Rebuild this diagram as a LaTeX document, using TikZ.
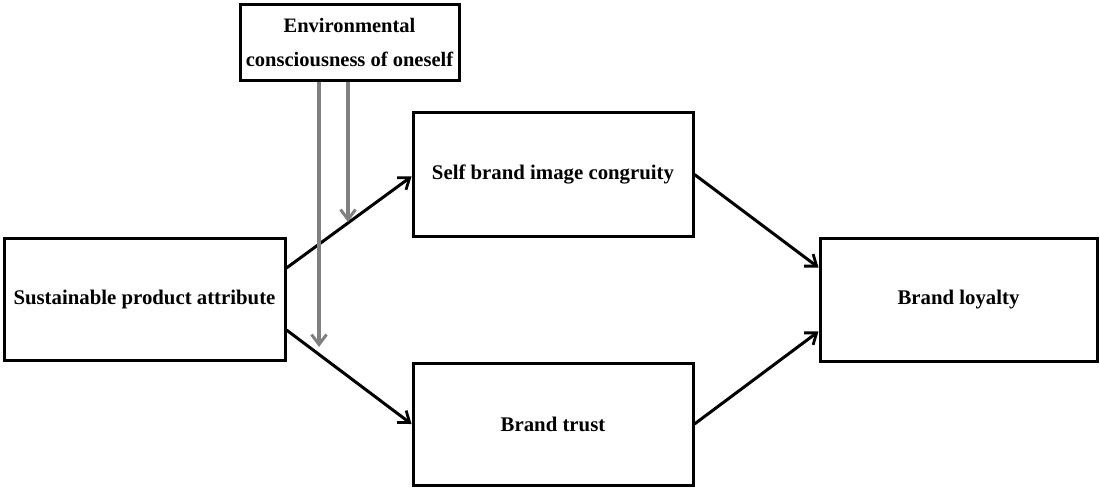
\documentclass[tikz,border=0pt]{standalone}
\usepackage{fontspec}
\setmainfont{Liberation Serif}
\usetikzlibrary{arrows.meta}
\begin{document}
\begin{tikzpicture}[x=1pt,y=-1pt,
  box/.style={draw=black,line width=3pt,rectangle,align=center,inner sep=0pt,font=\fontsize{20.8}{24}\selectfont\bfseries},
  link/.style={line width=3pt,-{Straight Barb[length=10pt,width=15pt,line width=2.8pt]}},
  mod/.style={line width=3.5pt,draw={rgb,255:red,128;green,128;blue,128},-{Straight Barb[length=10pt,width=15pt,line width=3pt]}}]
\useasboundingbox (0,0) rectangle (1100,489);
\node[box,minimum width=219pt,minimum height=76pt,font=\fontsize{20.5}{34}\selectfont\bfseries] (env) at (349.5,42.5) {Environmental\\consciousness of oneself};
\node[box,minimum width=280pt,minimum height=123pt] (sbic) at (553,174.5) {Self brand image congruity};
\node[box,minimum width=281pt,minimum height=122pt] (spa) at (144.5,299) {Sustainable product attribute};
\node[box,minimum width=280pt,minimum height=122pt] (bt) at (553,424) {Brand trust};
\node[box,minimum width=277pt,minimum height=123pt] (bl) at (958.5,299.5) {Brand loyalty};
\coordinate (m1) at (319,347);
\coordinate (m2) at (348,222);
\draw[link] ([yshift=31pt]spa.east) -- ([yshift=-2pt]sbic.west);
\draw[link] ([yshift=-31pt]spa.east) -- (bt.west);
\draw[link] (sbic.east) -- ([yshift=32pt]bl.west);
\draw[link] (bt.east) -- ([yshift=-32pt]bl.west);
\draw[mod] (env.south -| m1) -- (m1);
\draw[mod] (env.south -| m2) -- (m2);
\end{tikzpicture}
\end{document}
